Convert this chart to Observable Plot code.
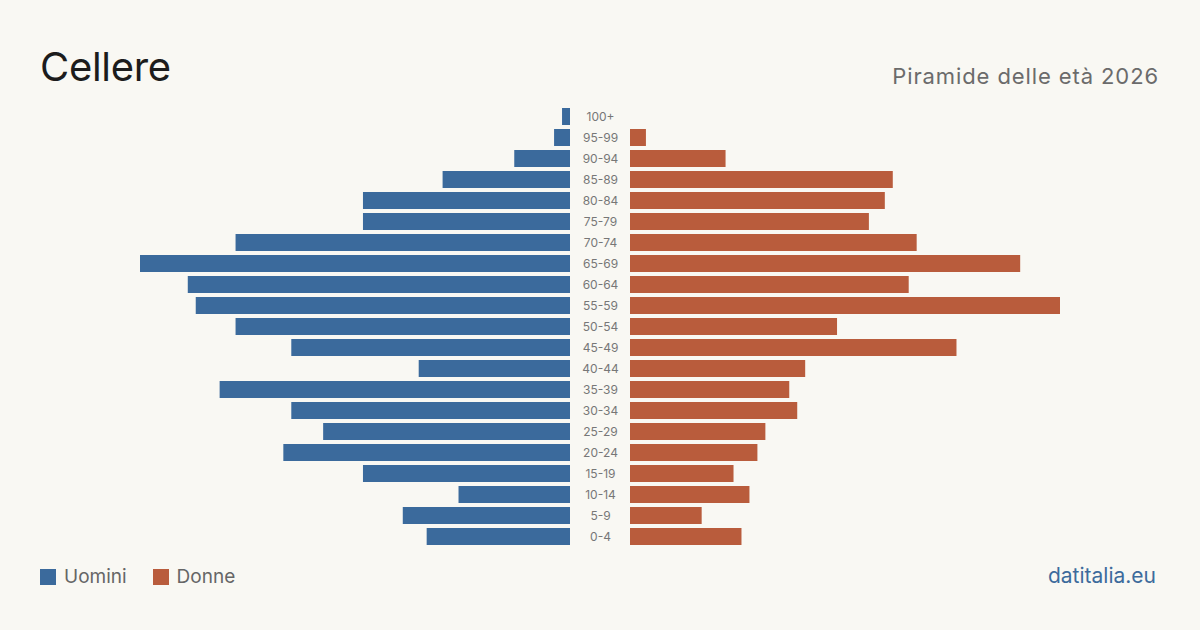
<!DOCTYPE html>
<html>
<head>
<meta charset="utf-8">
<script src="https://cdn.jsdelivr.net/npm/d3@7"></script>
<script src="https://cdn.jsdelivr.net/npm/@observablehq/plot@0.6"></script>
<style>
  html, body { margin: 0; padding: 0; }
  body { width: 1200px; height: 630px; background: #f9f8f3; position: relative; overflow: hidden; font-family: Inter, "Noto Sans", sans-serif; }
  #title { position: absolute; left: 40px; top: 47px; font-size: 40px; color: #1c1c1c; line-height: 1; letter-spacing: -0.3px; }
  #subtitle { position: absolute; right: 41px; top: 65px; font-size: 22px; color: #6b6b6b; line-height: 1; letter-spacing: 0.9px; }
  .chart { position: absolute; top: 0; }
  #legend { position: absolute; left: 40px; top: 567px; font-size: 19px; color: #666; display: flex; align-items: center; line-height: 20px; }
  .sw { display: inline-block; width: 16px; height: 16px; margin-right: 8px; }
  .item { display: flex; align-items: center; margin-right: 26px; }
  #source { position: absolute; right: 44px; top: 565px; font-size: 21px; color: #3d6b9c; line-height: 1; }
</style>
</head>
<body>
<div id="title">Cellere</div>
<div id="subtitle">Piramide delle età 2026</div>
<div id="left" class="chart" style="left:0px"></div>
<div id="mid" class="chart" style="left:570px"></div>
<div id="right" class="chart" style="left:630px"></div>
<div id="legend">
  <span class="item"><span class="sw" style="background:#3b6a9c"></span>Uomini</span>
  <span class="item"><span class="sw" style="background:#b95c3c"></span>Donne</span>
</div>
<div id="source">datitalia.eu</div>
<script>
const ageGroups = ["100+","95-99","90-94","85-89","80-84","75-79","70-74","65-69","60-64","55-59","50-54","45-49","40-44","35-39","30-34","25-29","20-24","15-19","10-14","5-9","0-4"];
const men   = [1, 2, 7, 16, 26, 26, 42, 54, 48, 47, 42, 35, 19, 44, 35, 31, 36, 26, 14, 21, 18];
const women = [0, 2, 12, 33, 32, 30, 36, 49, 35, 54, 26, 41, 22, 20, 21, 17, 16, 13, 15, 9, 14];
const xMax = 54;
const menColor = "#3b6a9c";
const womenColor = "#b95c3c";

const menData = ageGroups.map((a, i) => ({age: a, value: men[i]}));
const womenData = ageGroups.map((a, i) => ({age: a, value: women[i]}));

const pad = 4 / 21;
const common = {
  height: 560,
  marginTop: 104,
  marginBottom: 11,
  style: {background: "transparent", overflow: "visible"},
  y: {domain: ageGroups, type: "band", paddingInner: pad, paddingOuter: pad, axis: null, round: false}
};

const left = Plot.plot({
  ...common,
  width: 570,
  marginLeft: 140,
  marginRight: 0,
  x: {domain: [0, xMax], reverse: true, axis: null},
  marks: [
    Plot.barX(menData, {y: "age", x: "value", fill: menColor})
  ]
});
document.getElementById("left").appendChild(left);

const right = Plot.plot({
  ...common,
  width: 570,
  marginLeft: 0,
  marginRight: 140,
  x: {domain: [0, xMax], axis: null},
  marks: [
    Plot.barX(womenData, {y: "age", x: "value", fill: womenColor})
  ]
});
document.getElementById("right").appendChild(right);

const mid = Plot.plot({
  ...common,
  width: 60,
  marginLeft: 0,
  marginRight: 0,
  marks: [
    Plot.text(ageGroups, {y: d => d, text: d => d, frameAnchor: "middle", fill: "#777", fontSize: 12, fontFamily: "Inter, 'Noto Sans', sans-serif"})
  ]
});
document.getElementById("mid").appendChild(mid);
</script>
</body>
</html>
